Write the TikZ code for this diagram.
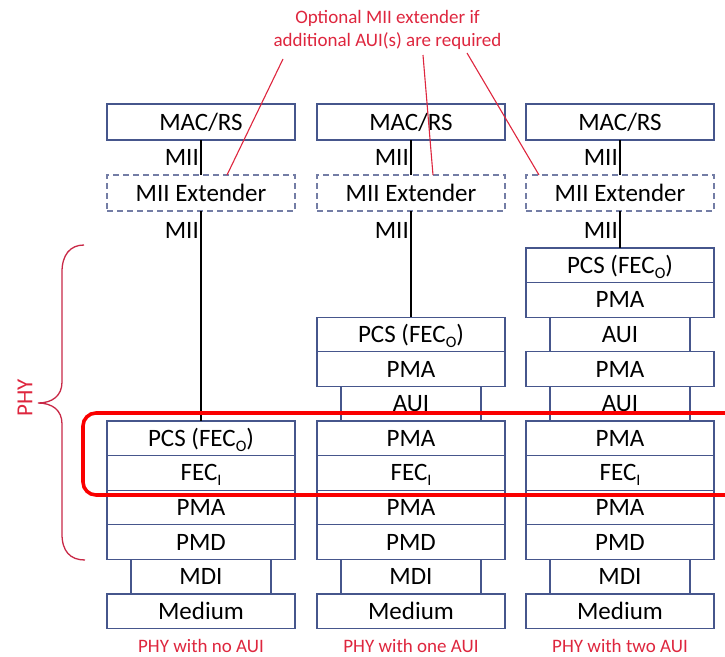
\documentclass[tikz,border=0pt]{standalone}
\usepackage{fontspec}
\setmainfont{Carlito}
\definecolor{boxblue}{RGB}{70,86,140}
\definecolor{dashblue}{RGB}{115,125,165}
\definecolor{notered}{RGB}{222,38,62}
\definecolor{bracered}{RGB}{200,40,70}
\definecolor{hilite}{RGB}{250,0,0}
% lowered subscript letter as used in FEC_O / FEC_I
\newcommand\fecsub[1]{\raisebox{-5pt}{\fontsize{16}{18}\selectfont #1}}
\begin{document}
\begin{tikzpicture}[x=1pt,y=-1pt,
  layer/.style={draw=boxblue, line width=1.2pt, minimum width=188pt,
    minimum height=34.6pt, inner sep=0pt, outer sep=0pt, anchor=north,
    font=\fontsize{25}{29}\selectfont, text height=16pt, text depth=0pt},
  narrow/.style={layer, minimum width=140pt},
  topbox/.style={layer, minimum height=36pt},
  extender/.style={topbox, draw=dashblue, dash pattern=on 6pt off 4pt},
  link/.style={line width=1.2pt, black},
  ifname/.style={font=\fontsize{25}{29}\selectfont, anchor=east, inner sep=2pt,
    text height=16pt, text depth=0pt},
  caption/.style={text=notered, font=\fontsize{19}{23}\selectfont, inner sep=0pt},
  pointer/.style={draw=notered, line width=1.1pt},
]
\useasboundingbox (0,0) rectangle (725,656);

% column centres and row tops
\def\cA{201}\def\cB{411}\def\cC{620}
\def\rt#1{{248+34.6*#1}}

% MAC/RS and MII extenders
\foreach \c/\n in {\cA/1,\cB/2,\cC/3}{
  \node[topbox] (mac\n) at (\c,104) {MAC/RS};
  \node[extender] (ext\n) at (\c,175) {MII Extender};
}

% PHY with no AUI
\node[layer]  (pcs1)  at (\cA,\rt{5})  {PCS (FEC\fecsub{O})};
\node[layer]  (feci1) at (\cA,\rt{6})  {FEC\fecsub{I}};
\node[layer]  (pmaa1) at (\cA,\rt{7})  {PMA};
\node[layer]  (pmd1)  at (\cA,\rt{8})  {PMD};
\node[narrow] (mdi1)  at (\cA,\rt{9})  {MDI};
\node[layer]  (med1)  at (\cA,\rt{10}) {Medium};

% PHY with one AUI
\node[layer]  (pcs2)  at (\cB,\rt{2})  {PCS (FEC\fecsub{O})};
\node[layer]  (pmaa2) at (\cB,\rt{3})  {PMA};
\node[narrow] (auia2) at (\cB,\rt{4})  {AUI};
\node[layer]  (pmab2) at (\cB,\rt{5})  {PMA};
\node[layer]  (feci2) at (\cB,\rt{6})  {FEC\fecsub{I}};
\node[layer]  (pmac2) at (\cB,\rt{7})  {PMA};
\node[layer]  (pmd2)  at (\cB,\rt{8})  {PMD};
\node[narrow] (mdi2)  at (\cB,\rt{9})  {MDI};
\node[layer]  (med2)  at (\cB,\rt{10}) {Medium};

% PHY with two AUI
\node[layer]  (pcs3)  at (\cC,\rt{0})  {PCS (FEC\fecsub{O})};
\node[layer]  (pmaa3) at (\cC,\rt{1})  {PMA};
\node[narrow] (auia3) at (\cC,\rt{2})  {AUI};
\node[layer]  (pmab3) at (\cC,\rt{3})  {PMA};
\node[narrow] (auib3) at (\cC,\rt{4})  {AUI};
\node[layer]  (pmac3) at (\cC,\rt{5})  {PMA};
\node[layer]  (feci3) at (\cC,\rt{6})  {FEC\fecsub{I}};
\node[layer]  (pmad3) at (\cC,\rt{7})  {PMA};
\node[layer]  (pmd3)  at (\cC,\rt{8})  {PMD};
\node[narrow] (mdi3)  at (\cC,\rt{9})  {MDI};
\node[layer]  (med3)  at (\cC,\rt{10}) {Medium};

% MII connections (labels sit just left of each line)
\foreach \n in {1,2,3}{
  \draw[link] (mac\n.south) -- (ext\n.north);
  \node[ifname] (miia\n) at ([yshift=-17.5pt]mac\n.south) {MII};
}
\draw[link] (ext1.south) -- (pcs1.north);
\draw[link] (ext2.south) -- (pcs2.north);
\draw[link] (ext3.south) -- (pcs3.north);
\foreach \n in {1,2,3}{
  \node[ifname] (miib\n) at ([yshift=-19pt]ext\n.south) {MII};
}

% captions
\node[caption] (cap1) at (\cA,646) {PHY with no AUI};
\node[caption] (cap2) at (\cB,646) {PHY with one AUI};
\node[caption] (cap3) at (\cC,646) {PHY with two AUI};

% note on the optional extender
\node[caption, align=center, anchor=north] (note) at (387.5,10.5)
  {Optional MII extender if\\additional AUI(s) are required};
\coordinate (n1) at (283,59);
\coordinate (n2) at (423,55);
\coordinate (n3) at (467,53);
\draw[pointer] (n1) -- ([xshift=26pt]ext1.north);
\draw[pointer] (n2) -- ([xshift=22pt]ext2.north);
\draw[pointer] (n3) -- ([xshift=13pt]ext3.north west);

% PHY brace
\draw[bracered, line width=1.3pt]
  (84,245) .. controls (70,245) and (62,255) .. (62,272)
  -- (62,382) .. controls (62,396) and (52,403) .. (38,403)
  .. controls (52,403) and (62,410) .. (62,424)
  -- (62,534) .. controls (62,551) and (70,560) .. (85,560);
\node[text=notered, rotate=90, font=\fontsize{23}{26}\selectfont, inner sep=0pt]
  (phy) at (25,398) {PHY};

% highlighted FEC rows
\draw[hilite, line width=3.6pt, rounded corners=13pt] (83,413) rectangle (770,495);
\end{tikzpicture}
\end{document}
